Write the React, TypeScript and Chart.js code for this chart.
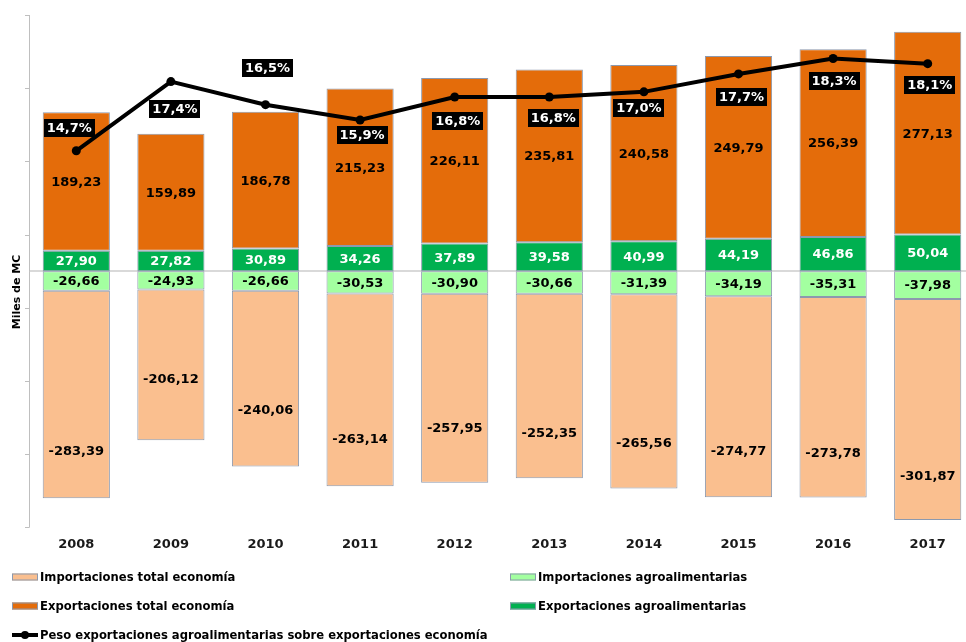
import React, { useEffect, useRef } from "react";
import { Chart, registerables } from "chart.js";

Chart.register(...registerables);

const years = ["2008", "2009", "2010", "2011", "2012", "2013", "2014", "2015", "2016", "2017"];
const importTotal = [-283.39, -206.12, -240.06, -263.14, -257.95, -252.35, -265.56, -274.77, -273.78, -301.87];
const importAgro = [-26.66, -24.93, -26.66, -30.53, -30.9, -30.66, -31.39, -34.19, -35.31, -37.98];
const exportAgro = [27.9, 27.82, 30.89, 34.26, 37.89, 39.58, 40.99, 44.19, 46.86, 50.04];
const exportTotal = [189.23, 159.89, 186.78, 215.23, 226.11, 235.81, 240.58, 249.79, 256.39, 277.13];
const shareAgro = [14.7, 17.4, 16.5, 15.9, 16.8, 16.8, 17.0, 17.7, 18.3, 18.1];
const yTicks = [-350, -250, -150, -50, 50, 150, 250, 350];

// label anchor (axis units) for the import totals, as placed in the original
const importLabelAt = [-245.7, -146.9, -189.4, -229.2, -214.1, -221.0, -234.7, -245.7, -248.4, -278.6];
// offsets of the percentage boxes from their points (px)
const shareLabelOffsets: [number, number][] = [
  [-7, -23], [4, 27], [2, -37], [2, 15], [3, 24], [4, 21], [-5, 16], [3, 23], [1, 22], [2, 21],
];

const FONT = "'DejaVu Sans', Verdana, sans-serif";
const C_IMP_TOTAL = "#FABF8F";
const C_IMP_AGRO = "#A3FFA0";
const C_EXP_AGRO = "#00B050";
const C_EXP_TOTAL = "#E46C0A";
const BORDER = "#8C99AE";

const fmt = (v: number) => v.toFixed(2).replace(".", ",");
const fmtPct = (v: number) => v.toFixed(1).replace(".", ",") + "%";

const customPlugin = {
  id: "custom",
  beforeDatasetsDraw(chart: any) {
    const ctx = chart.ctx;
    const area = chart.chartArea;
    const y = chart.scales.y;
    ctx.save();
    // zero line
    ctx.strokeStyle = "#D9D9D9";
    ctx.lineWidth = 2;
    ctx.beginPath();
    const y0 = Math.round(y.getPixelForValue(0));
    ctx.moveTo(area.left, y0);
    ctx.lineTo(chart.width, y0);
    ctx.stroke();
    // y axis line + ticks
    ctx.strokeStyle = "#BFBFBF";
    ctx.lineWidth = 1;
    ctx.beginPath();
    ctx.moveTo(area.left + 0.5, area.top);
    ctx.lineTo(area.left + 0.5, area.bottom);
    yTicks.forEach((t) => {
      const py = Math.round(y.getPixelForValue(t)) + 0.5;
      ctx.moveTo(area.left - 4, py);
      ctx.lineTo(area.left + 0.5, py);
    });
    ctx.stroke();
    // y title
    ctx.translate(17, 292);
    ctx.rotate(-Math.PI / 2);
    ctx.fillStyle = "#000";
    ctx.font = `bold 11px ${FONT}`;
    ctx.textAlign = "center";
    ctx.textBaseline = "middle";
    ctx.fillText("Miles de MC", 0, 0);
    ctx.restore();
  },
  afterDatasetsDraw(chart: any) {
    const ctx = chart.ctx;
    const yScale = chart.scales.y;
    ctx.save();
    ctx.font = `bold 13px ${FONT}`;
    ctx.textAlign = "center";
    ctx.textBaseline = "middle";
    const sets = [
      { idx: 0, data: importAgro, color: "#000" },
      { idx: 1, data: importTotal, color: "#000" },
      { idx: 2, data: exportAgro, color: "#fff" },
      { idx: 3, data: exportTotal, color: "#000" },
    ];
    sets.forEach((s) => {
      const meta = chart.getDatasetMeta(s.idx);
      meta.data.forEach((el: any, j: number) => {
        let cy = (el.y + el.base) / 2;
        if (s.idx === 1) cy = yScale.getPixelForValue(importLabelAt[j]);
        ctx.fillStyle = s.color;
        ctx.fillText(fmt(s.data[j]), el.x, cy + 1);
      });
    });
    // percentage labels
    const lineMeta = chart.getDatasetMeta(4);
    lineMeta.data.forEach((el: any, j: number) => {
      const [dx, dy] = shareLabelOffsets[j];
      const cx = el.x + dx;
      const cy = el.y + dy;
      const txt = fmtPct(shareAgro[j]);
      const w = ctx.measureText(txt).width + 6;
      const h = 18;
      ctx.fillStyle = "#000";
      ctx.fillRect(Math.round(cx - w / 2), Math.round(cy - h / 2), Math.round(w), h);
      ctx.fillStyle = "#fff";
      ctx.fillText(txt, cx, cy + 1);
    });
    ctx.restore();
  },
  afterDraw(chart: any) {
    const ctx = chart.ctx;
    ctx.save();
    ctx.font = `bold 11.6px ${FONT}`;
    ctx.textBaseline = "middle";
    ctx.textAlign = "left";
    const items = [
      { x: 12, y: 577, color: C_IMP_TOTAL, text: "Importaciones total economía", line: false },
      { x: 510, y: 577, color: C_IMP_AGRO, text: "Importaciones agroalimentarias", line: false },
      { x: 12, y: 606, color: C_EXP_TOTAL, text: "Exportaciones total economía", line: false },
      { x: 510, y: 606, color: C_EXP_AGRO, text: "Exportaciones agroalimentarias", line: false },
      { x: 12, y: 635, color: "#000", text: "Peso exportaciones agroalimentarias sobre exportaciones economía", line: true },
    ];
    items.forEach((it) => {
      if (it.line) {
        ctx.strokeStyle = "#000";
        ctx.lineWidth = 4;
        ctx.beginPath();
        ctx.moveTo(it.x, it.y);
        ctx.lineTo(it.x + 26, it.y);
        ctx.stroke();
        ctx.fillStyle = "#000";
        ctx.beginPath();
        ctx.arc(it.x + 13, it.y, 4, 0, Math.PI * 2);
        ctx.fill();
      } else {
        ctx.fillStyle = it.color;
        ctx.fillRect(it.x, it.y - 3.5, 26, 7);
        ctx.strokeStyle = BORDER;
        ctx.lineWidth = 1;
        ctx.strokeRect(it.x + 0.5, it.y - 3, 25, 6);
      }
      ctx.fillStyle = "#000";
      ctx.fillText(it.text, it.x + 28, it.y + 1);
    });
    ctx.restore();
  },
};

export default function App() {
  const ref = useRef<HTMLCanvasElement | null>(null);
  useEffect(() => {
    if (!ref.current) return;
    const barCommon = {
      type: "bar" as const,
      borderColor: BORDER,
      borderWidth: 1,
      borderSkipped: false,
      categoryPercentage: 1,
      barPercentage: 0.71,
      stack: "s",
      yAxisID: "y",
      order: 1,
    };
    const chart = new Chart(ref.current, {
      type: "bar",
      data: {
        labels: years,
        datasets: [
          { ...barCommon, label: "Importaciones agroalimentarias", data: importAgro, backgroundColor: C_IMP_AGRO },
          { ...barCommon, label: "Importaciones total economía", data: importTotal, backgroundColor: C_IMP_TOTAL },
          { ...barCommon, label: "Exportaciones agroalimentarias", data: exportAgro, backgroundColor: C_EXP_AGRO },
          { ...barCommon, label: "Exportaciones total economía", data: exportTotal, backgroundColor: C_EXP_TOTAL },
          {
            type: "line" as const,
            label: "Peso exportaciones agroalimentarias sobre exportaciones economía",
            data: shareAgro,
            borderColor: "#000",
            backgroundColor: "#000",
            borderWidth: 4,
            pointRadius: 4.5,
            pointBackgroundColor: "#000",
            pointBorderWidth: 0,
            tension: 0,
            yAxisID: "y1",
            order: 0,
          } as any,
        ],
      },
      options: {
        animation: false,
        responsive: false,
        maintainAspectRatio: false,
        layout: { padding: { left: 29, right: 15, top: 15, bottom: 81 } },
        plugins: { legend: { display: false }, tooltip: { enabled: false } },
        scales: {
          x: {
            stacked: true,
            grid: { display: false, drawTicks: false },
            border: { display: false },
            ticks: { color: "#1a1a1a", padding: 9, font: { family: FONT, size: 13, weight: "bold" } },
          },
          y: { stacked: true, display: false, min: -350, max: 350 },
          y1: { display: false, min: 0, max: 20, position: "right" },
        },
      },
      plugins: [customPlugin],
    });
    return () => chart.destroy();
  }, []);
  return (
    <div style={{ position: "fixed", left: 0, top: 0, width: 966, height: 642, overflow: "hidden", background: "#fff" }}>
      <canvas ref={ref} width={990} height={642} style={{ width: 990, height: 642, display: "block" }} />
    </div>
  );
}
